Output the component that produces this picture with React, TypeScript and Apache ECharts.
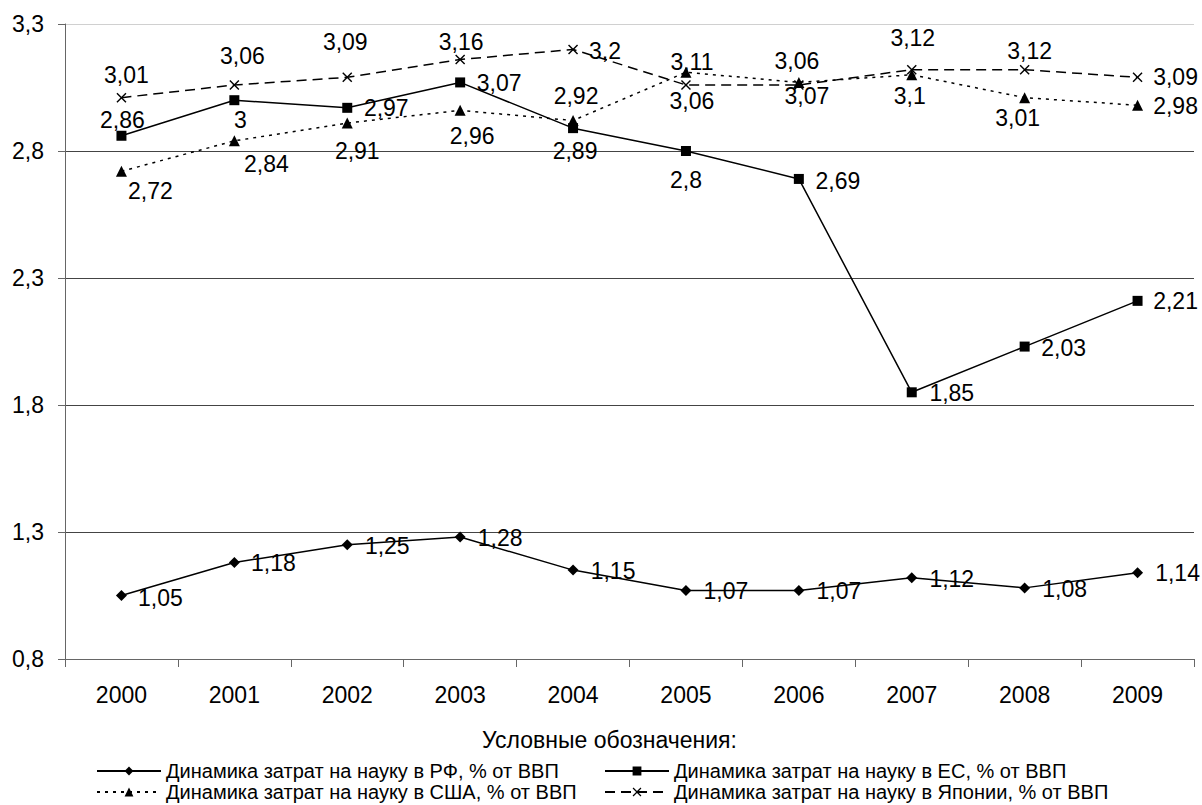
import React, { useEffect, useRef } from "react";
import * as echarts from "echarts";

const years = ["2000", "2001", "2002", "2003", "2004", "2005", "2006", "2007", "2008", "2009"];
const yTicks = [0.8, 1.3, 1.8, 2.3, 2.8, 3.3];

const rfValues = [1.05, 1.18, 1.25, 1.28, 1.15, 1.07, 1.07, 1.12, 1.08, 1.14];
const euValues = [2.86, 3, 2.97, 3.07, 2.89, 2.8, 2.69, 1.85, 2.03, 2.21];
const usaValues = [2.72, 2.84, 2.91, 2.96, 2.92, 3.11, 3.07, 3.1, 3.01, 2.98];
const japanValues = [3.01, 3.06, 3.09, 3.16, 3.2, 3.06, 3.06, 3.12, 3.12, 3.09];

const seriesNames = [
  "Динамика затрат на науку в РФ, % от ВВП",
  "Динамика затрат на науку в ЕС, % от ВВП",
  "Динамика затрат на науку в США, % от ВВП",
  "Динамика затрат на науку в Японии, % от ВВП",
];

// label placement (dx, dy from the point to the label centre) — styling only
const rfLabelOffsets = [[39, 2], [39, 1], [40, 1], [40, 1], [40, 1], [40, 1], [40, 1], [40, 1], [40, 1], [40, 0]];
const euLabelOffsets = [[1, -16], [6, 20], [39, 0], [39, 1], [2, 23], [0, 29], [39, 2], [40, 1], [39, 1], [38, 0]];
const usaLabelOffsets = [[29, 20], [32, 23], [10, 28], [12, 26], [3, -25], [6, -10], [8, 14], [-2, 21], [-7, 20], [38, 1]];
const japanLabelOffsets = [[5, -23], [8, -29], [-2, -35], [1, -18], [32, 2], [6, 16], [-2, -24], [1, -32], [5, -19], [38, 0]];

const FONT = "'Liberation Sans', Arial, sans-serif";
const crossPath = "path://M0,1L1,0L5,4L9,0L10,1L6,5L10,9L9,10L5,6L1,10L0,9L4,5Z";

const fmt = (v: number) => String(v).replace(".", ",");

function withLabels(values: number[], offsets: number[][]) {
  return values.map((v, i) => ({
    value: v,
    label: { offset: offsets[i] },
  }));
}

export default function App() {
  const ref = useRef<HTMLDivElement>(null);
  useEffect(() => {
    if (!ref.current) return;
    const chart = echarts.init(ref.current, undefined, { renderer: "svg" });
    const labelBase = {
      show: true,
      position: "inside",
      align: "center",
      verticalAlign: "middle",
      fontSize: 23,
      fontFamily: FONT,
      color: "#000",
      formatter: (p: any) => fmt(p.value),
    };
    const mkSeries = (
      name: string,
      values: number[],
      offsets: number[][],
      symbol: string,
      symbolSize: number,
      lineType: any
    ) => ({
      name,
      type: "line",
      data: withLabels(values, offsets),
      symbol,
      symbolSize,
      showAllSymbol: true,
      lineStyle: { color: "#000", width: 1.5, type: lineType },
      itemStyle: { color: "#000" },
      label: labelBase,
      emphasis: { disabled: true },
      z: 3,
    });
    const legendBase = {
      itemWidth: 64,
      itemHeight: 11,
      itemGap: 0,
      padding: 0,
      textStyle: { fontFamily: FONT, fontSize: 20, color: "#000" },
    };
    chart.setOption({
      animation: false,
      backgroundColor: "#fff",
      title: {
        text: "Условные обозначения:",
        left: 482,
        top: 728,
        padding: 0,
        textStyle: { fontFamily: FONT, fontSize: 23, fontWeight: "normal", color: "#000" },
      },
      legend: [
        { ...legendBase, data: [seriesNames[0]], left: 96, top: 761 },
        { ...legendBase, data: [seriesNames[1]], left: 604, top: 761 },
        { ...legendBase, data: [seriesNames[2]], left: 96, top: 782 },
        { ...legendBase, data: [seriesNames[3]], left: 604, top: 782 },
      ],
      grid: { left: 65, right: 8, top: 24, bottom: 146 },
      xAxis: {
        type: "category",
        data: years,
        boundaryGap: true,
        axisLine: { lineStyle: { color: "#666", width: 1 } },
        axisTick: { show: true, length: 8, lineStyle: { color: "#666" } },
        axisLabel: { fontSize: 23, fontFamily: FONT, color: "#000", margin: 24 },
      },
      yAxis: {
        type: "value",
        min: 0.8,
        max: 3.3,
        axisLine: { show: true, lineStyle: { color: "#666", width: 1 } },
        axisTick: { show: true, length: 7, customValues: yTicks, lineStyle: { color: "#666" } },
        axisLabel: {
          customValues: yTicks,
          fontSize: 23,
          fontFamily: FONT,
          color: "#000",
          margin: 21,
          formatter: (v: number) => fmt(v),
        },
        splitLine: {
          show: true,
          lineStyle: { color: ["#444", "#444", "#444", "#444", "#444", "#d0d0d0"], width: 1 },
        },
      },
      series: [
        mkSeries(seriesNames[0], rfValues, rfLabelOffsets, "diamond", 11, "solid"),
        mkSeries(seriesNames[1], euValues, euLabelOffsets, "rect", 10, "solid"),
        mkSeries(seriesNames[2], usaValues, usaLabelOffsets, "triangle", 11, [3, 5]),
        mkSeries(seriesNames[3], japanValues, japanLabelOffsets, crossPath, 10, [10, 6]),
      ],
    });
    return () => chart.dispose();
  }, []);
  return (
    <div
      ref={ref}
      style={{ position: "fixed", left: 0, top: 0, width: 1202, height: 805, background: "#fff" }}
    />
  );
}
